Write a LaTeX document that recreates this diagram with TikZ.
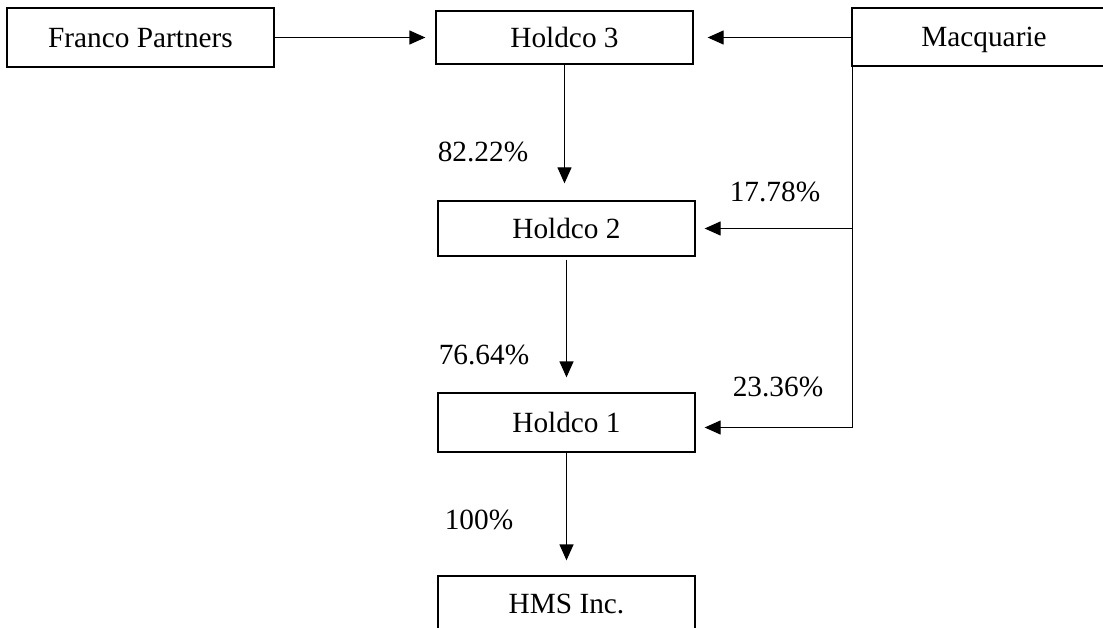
\documentclass[tikz,border=0pt]{standalone}
\usepackage{fontspec}
\setmainfont{Liberation Serif}
\usetikzlibrary{arrows.meta}
\begin{document}
\begin{tikzpicture}[x=1pt,y=-1pt,
  every node/.style={font=\fontsize{29.3}{35}\selectfont, text height=19.9pt, text depth=0pt, inner sep=0pt},
  box/.style={draw, line width=1.3pt, rectangle, minimum width=257pt},
  pct/.style={},
  link/.style={line width=1.3pt},
  arr/.style={link, -{Triangle[length=16pt,width=14pt]}}]
\clip (0,0) rectangle (1103,628);
\fill[white] (0,0) rectangle (1103,628);
\node[box, minimum width=267pt, minimum height=59pt] (franco) at (140.5,37.5) {Franco Partners};
\node[box, minimum height=53pt] (h3) at (564.5,37.5) {Holdco 3};
\node[box, minimum width=264pt, minimum height=58pt] (mac) at (984,37) {Macquarie};
\node[box, minimum height=55pt] (h2) at (566.5,228.5) {Holdco 2};
\node[box, minimum height=59pt] (h1) at (566.5,422.5) {Holdco 1};
\node[box, minimum height=56pt] (hms) at (566.5,604) {HMS Inc.};
\node[pct] (p1) at (483,152) {82.22\%};
\node[pct] (p2) at (775,192) {17.78\%};
\node[pct] (p3) at (484,355) {76.64\%};
\node[pct] (p4) at (778,387) {23.36\%};
\node[pct] (p5) at (479,520) {100\%};
\coordinate (mline) at ([xshift=1pt]mac.south west);
\draw[arr, shorten >=10pt] (franco.east) -- (h3.west);
\draw[arr, shorten >=14pt] (mac.west |- h3.east) -- (h3.east);
\draw[arr, shorten >=17pt] (h3.south) -- (h3.south |- h2.north);
\draw[arr, shorten <=3pt, shorten >=15pt] (h2.south) -- (h1.north);
\draw[arr, shorten >=15pt] (h1.south) -- (hms.north);
\draw[arr] (mline) |- ([shift={(9,5)}]h1.east);
\draw[arr] (h2.east -| mline) -- ([xshift=9pt]h2.east);
\end{tikzpicture}
\end{document}
